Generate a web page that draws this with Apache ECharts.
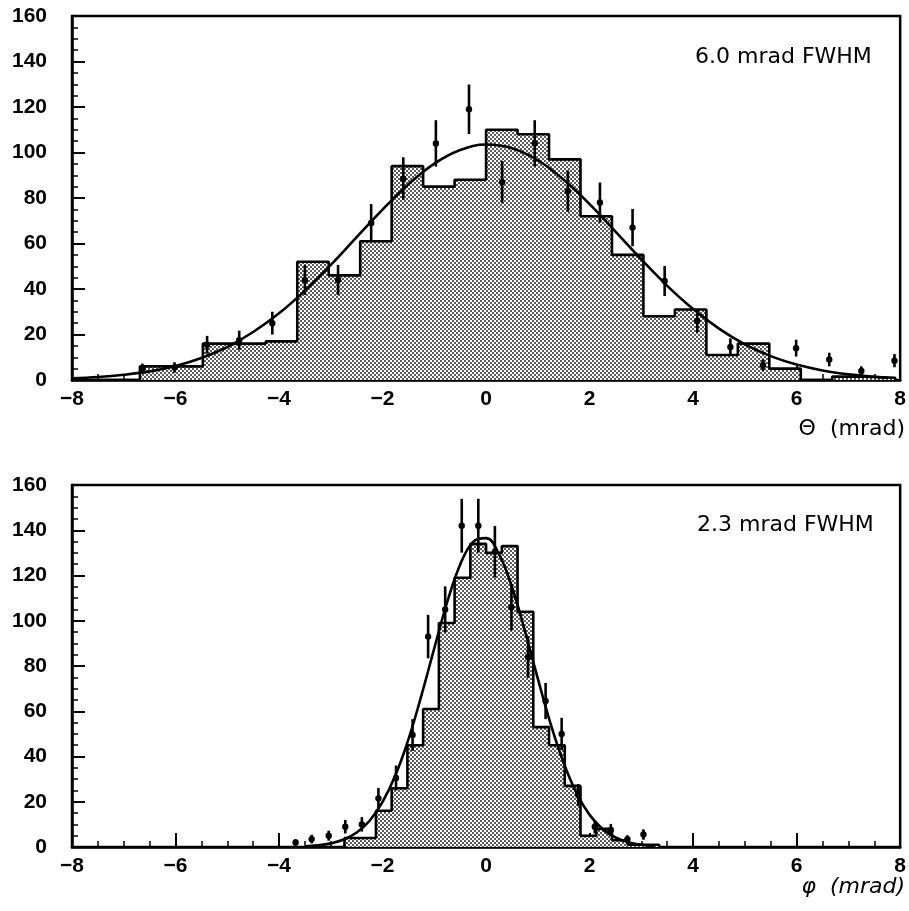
<!DOCTYPE html>
<html>
<head>
<meta charset="utf-8">
<script src="https://cdn.jsdelivr.net/npm/echarts@6/dist/echarts.min.js"></script>
<style>
html,body{margin:0;padding:0;background:#fff;}
#chart{width:909px;height:911px;}
</style>
</head>
<body>
<div id="chart"></div>
<script>
// ---------- Data ----------
// Top panel: theta distribution
const thetaBinStart = -7.904;
const thetaBinWidth = 0.608;
const thetaHist = [0, 0, 6, 6, 16, 16, 17, 52, 46, 61, 94, 85, 88, 110, 108, 97, 72, 55, 28, 31, 11, 16, 5, 0, 1.5, 1];
const thetaPtsX = [-6.64, -6.02, -5.39, -4.77, -4.13, -3.50, -2.86, -2.22, -1.60, -0.97, -0.33, 0.31, 0.94, 1.58, 2.20, 2.83, 3.45, 4.08, 4.72, 5.35, 5.99, 6.63, 7.25, 7.89];
const thetaPtsY = [5, 5.5, 15.5, 17.5, 25, 44, 44, 69, 88.5, 104, 119, 87, 104, 83, 78, 67, 43.5, 26, 14.5, 6.5, 14, 9, 4, 8.5];
const thetaPtsErr = [2.2, 2.3, 3.9, 4.2, 5, 6.6, 6.6, 8.3, 9.4, 10.2, 10.9, 9.3, 10.2, 9.1, 8.8, 8.2, 6.6, 5.1, 3.8, 2.5, 3.7, 3, 2, 2.9];
const thetaFitX = [-8, -7.5, -7, -6.5, -6, -5.5, -5, -4.5, -4, -3.5, -3, -2.5, -2, -1.5, -1, -0.5, 0, 0.5, 1, 1.5, 2, 2.5, 3, 3.5, 4, 4.5, 5, 5.5, 6, 6.5, 7, 7.5, 7.75];
const thetaFitY = [0.7, 1.3, 2.3, 3.8, 6.2, 9.7, 14.5, 21.1, 29.3, 39.3, 50.6, 62.8, 74.9, 86.0, 95.1, 101.1, 103.5, 101.9, 96.6, 88.0, 77.3, 65.2, 53.0, 41.4, 31.2, 22.6, 15.7, 10.5, 6.8, 4.2, 2.5, 1.45, 1.0];

// Bottom panel: phi distribution
const phiBinStart = -2.736;
const phiBinWidth = 0.304;
const phiHist = [4, 4, 16, 26, 45, 61, 99, 119, 134, 130, 133, 104, 53, 45, 27, 5, 8, 3, 1, 1];
const phiPtsX = [-3.68, -3.37, -3.04, -2.72, -2.40, -2.08, -1.74, -1.42, -1.12, -0.79, -0.47, -0.15, 0.17, 0.49, 0.81, 1.15, 1.46, 1.78, 2.10, 2.41, 2.73, 3.04];
const phiPtsY = [2, 3.5, 5, 9, 10, 21.5, 30.5, 49.5, 93, 105, 142, 142, 130.5, 106, 84, 64.5, 50, 23, 9, 7.5, 3.4, 5.5];
const phiPtsErr = [1.4, 1.9, 2.2, 3, 3.2, 4.6, 5.5, 7, 9.6, 10.2, 11.9, 11.9, 11.4, 10.3, 9.2, 8, 7.1, 4.8, 3, 2.7, 1.8, 2.3];
const phiFitX = [-3.5, -3.25, -3, -2.75, -2.5, -2.25, -2, -1.75, -1.5, -1.25, -1, -0.75, -0.5, -0.25, 0, 0.25, 0.5, 0.75, 1, 1.25, 1.5, 1.75, 2, 2.25, 2.5, 2.75, 3, 3.25];
const phiFitY = [0.3, 0.7, 1.6, 3.3, 6.4, 11.6, 19.9, 31.8, 47.6, 66.9, 87.9, 108.3, 124.9, 134.9, 136.5, 129.4, 114.9, 95.5, 74.4, 54.2, 37.1, 23.7, 14.2, 8.0, 4.2, 2.1, 1.0, 0.4];

const xTicks = [-8, -6, -4, -2, 0, 2, 4, 6, 8];
const yTicks = [0, 20, 40, 60, 80, 100, 120, 140, 160];
const labels = { top: '6.0 mrad FWHM', bottom: '2.3 mrad FWHM', topAxis: 'Θ  (mrad)', bottomAxis: 'φ  (mrad)' };

// ---------- Helpers ----------
function histOutline(start, width, vals) {
  const pts = [[start, 0]];
  vals.forEach((v, i) => {
    const lo = start + i * width, hi = lo + width;
    pts.push([lo, v]);
    pts.push([hi, v]);
  });
  pts.push([start + vals.length * width, 0]);
  return pts;
}
function zip(a, b, c) { return a.map((v, i) => c ? [v, b[i], c[i]] : [v, b[i]]); }

// dotted fill pattern (fine checkerboard of small dots)
const pat = document.createElement('canvas');
pat.width = 4; pat.height = 4;
const pctx = pat.getContext('2d');
pctx.fillStyle = '#fff'; pctx.fillRect(0, 0, 4, 4);
pctx.fillStyle = '#5c5c5c';
pctx.fillRect(0, 0, 2, 2);
pctx.fillRect(2, 2, 2, 2);

const FONT = 'Liberation Sans';
const grids = [
  { left: 72, top: 16, width: 832, height: 364 },
  { left: 72, top: 485, width: 832, height: 362 }
];

function xAxisDef(gi) {
  return {
    type: 'value', gridIndex: gi, min: xTicks[0], max: xTicks[xTicks.length - 1], interval: 2,
    axisLine: { show: true, onZero: false, lineStyle: { color: '#000', width: 2.5 } },
    axisTick: { show: true, inside: true, length: 14, lineStyle: { color: '#000', width: 2 } },
    minorTick: { show: true, splitNumber: 4, length: 6, lineStyle: { color: '#000', width: 1.5 } },
    splitLine: { show: false },
    axisLabel: {
      margin: 9, color: '#000', fontFamily: FONT, fontWeight: 'bold', fontSize: 21,
      formatter: v => (v < 0 ? '\u2212' + Math.abs(v) : String(v))
    }
  };
}
function yAxisDef(gi) {
  return {
    type: 'value', gridIndex: gi, min: yTicks[0], max: yTicks[yTicks.length - 1], interval: 20,
    axisLine: { show: true, onZero: false, lineStyle: { color: '#000', width: 2.5 } },
    axisTick: { show: true, inside: true, length: 13, lineStyle: { color: '#000', width: 2 } },
    minorTick: { show: true, splitNumber: 4, length: 6, lineStyle: { color: '#000', width: 1.5 } },
    splitLine: { show: false },
    axisLabel: { margin: 25, color: '#000', fontFamily: FONT, fontWeight: 'bold', fontSize: 21 }
  };
}

function errRender(params, api) {
  const x = api.value(0), y = api.value(1), e = api.value(2);
  const p = api.coord([x, y]);
  const lo = api.coord([x, Math.max(0, y - e)]);
  const hi = api.coord([x, y + e]);
  return {
    type: 'group',
    children: [
      { type: 'line', shape: { x1: p[0], y1: lo[1], x2: p[0], y2: hi[1] }, style: { stroke: '#000', lineWidth: 2.6 } },
      { type: 'circle', shape: { cx: p[0], cy: p[1], r: 3.2 }, style: { fill: '#000' } }
    ]
  };
}

function panelSeries(gi, start, width, hist, fx, fy, px, py, pe) {
  return [
    {
      type: 'line', xAxisIndex: gi, yAxisIndex: gi, data: histOutline(start, width, hist),
      symbol: 'none', smooth: false, animation: false,
      lineStyle: { color: '#000', width: 2.6 },
      areaStyle: { color: { image: pat, repeat: 'repeat' }, opacity: 1, origin: 'start' },
      z: 2
    },
    {
      type: 'line', xAxisIndex: gi, yAxisIndex: gi, data: zip(fx, fy),
      symbol: 'none', smooth: 0.4, animation: false,
      lineStyle: { color: '#000', width: 2.6 }, z: 3
    },
    {
      type: 'custom', xAxisIndex: gi, yAxisIndex: gi, data: zip(px, py, pe),
      renderItem: errRender, animation: false, z: 4
    }
  ];
}

const chart = echarts.init(document.getElementById('chart'), null, { renderer: 'canvas' });
chart.setOption({
  backgroundColor: '#fff',
  animation: false,
  grid: grids.map(g => Object.assign({ show: true, borderColor: '#000', borderWidth: 2.5, backgroundColor: 'transparent' }, g)),
  xAxis: [xAxisDef(0), xAxisDef(1)],
  yAxis: [yAxisDef(0), yAxisDef(1)],
  series: [].concat(
    panelSeries(0, thetaBinStart, thetaBinWidth, thetaHist, thetaFitX, thetaFitY, thetaPtsX, thetaPtsY, thetaPtsErr),
    panelSeries(1, phiBinStart, phiBinWidth, phiHist, phiFitX, phiFitY, phiPtsX, phiPtsY, phiPtsErr)
  ),
  graphic: [
    { type: 'text', left: 695, top: 46, style: { text: labels.top, fill: '#000', font: '22px "DejaVu Sans"' } },
    { type: 'text', left: 697, top: 514, style: { text: labels.bottom, fill: '#000', font: '22px "DejaVu Sans"' } },
    { type: 'text', right: 4, top: 418, style: { text: labels.topAxis, fill: '#000', font: '22px "DejaVu Sans"' } },
    { type: 'text', right: 4, top: 876, style: { text: labels.bottomAxis, fill: '#000', font: 'italic 22px "DejaVu Sans"' } }
  ]
});
</script>
</body>
</html>
